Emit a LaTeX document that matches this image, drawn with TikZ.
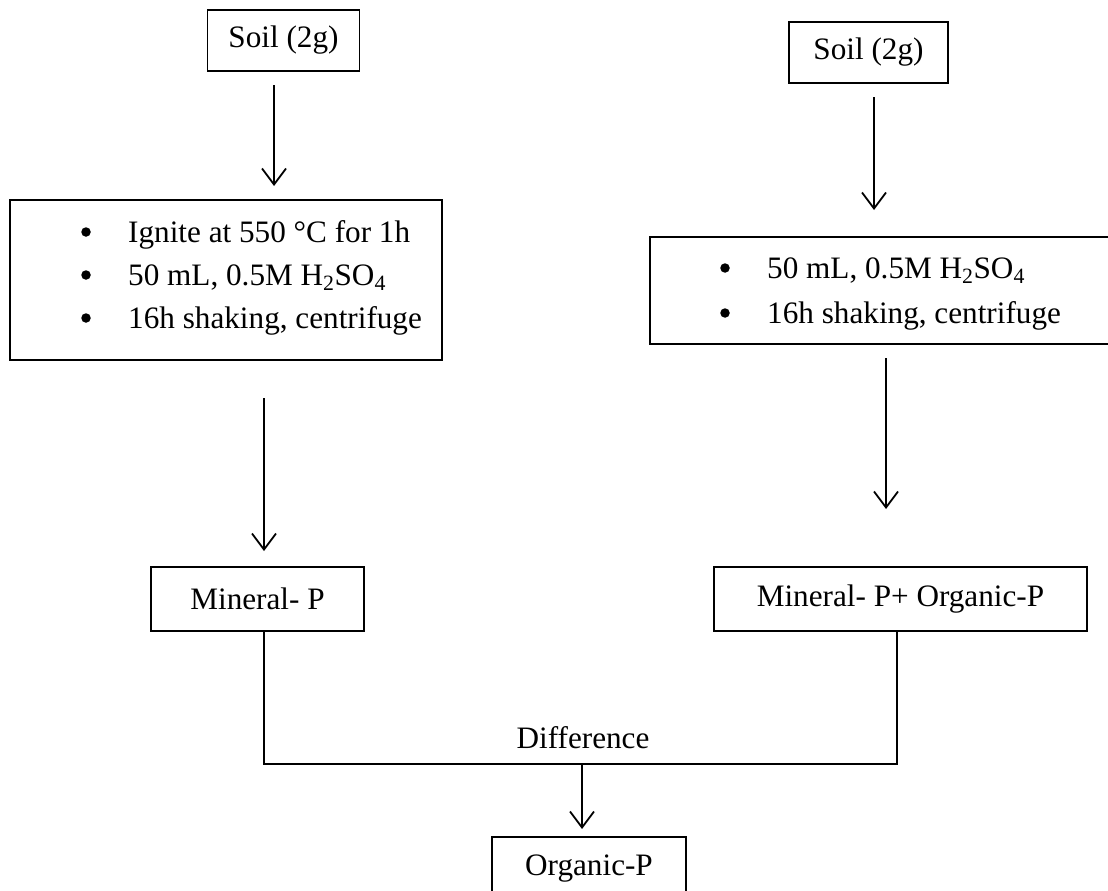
\documentclass[tikz,border=0pt]{standalone}
\usepackage{fontspec}
\setmainfont{Liberation Serif}
\usetikzlibrary{arrows.meta}
\newcommand\diagfont{\fontsize{31.2}{36}\selectfont}
\begin{document}
\begin{tikzpicture}[x=1pt,y=-1pt,
  box/.style={draw, line width=1.2pt, inner sep=0pt, font=\diagfont},
  txt/.style={inner sep=0pt, font=\diagfont},
  dot/.style={circle, fill, inner sep=0pt, minimum size=9.5pt},
  arr/.style={line width=1.8pt, -{Straight Barb[length=16pt,width=24pt]}},
  conn/.style={line width=1.4pt}]
\useasboundingbox (0,0) rectangle (1108,891);
% boxes
\node[box, minimum width=152pt, minimum height=61pt] (soilL) at (283.5,40.5) {Soil (2g)};
\node[box, minimum width=159pt, minimum height=61pt] (soilR) at (868.5,52.5) {Soil (2g)};
\node[box, minimum width=432pt, minimum height=160pt] (procL) at (226,280) {};
\node[box, minimum width=470pt, minimum height=107pt] (procR) at (885,290.5) {};
\node[box, minimum width=213pt, minimum height=64pt] (minL) at (257.5,599) {Mineral- P};
\node[box, minimum width=373pt, minimum height=64pt] (mixR) at (900.5,599) {Mineral- P+ Organic-P};
\node[box, minimum width=194pt, minimum height=64pt] (orgP) at (589,869) {Organic-P};
% bullet lists
\node[dot] (bL1) at (86,232) {};
\node[txt, anchor=base west] (tL1) at (128,242) {Ignite at 550 °C for 1h};
\node[dot] (bL2) at (86,275) {};
\node[txt, anchor=base west] (tL2) at (128,285) {50 mL, 0.5M H\textsubscript{2}SO\textsubscript{4}};
\node[dot] (bL3) at (86,318) {};
\node[txt, anchor=base west] (tL3) at (128,328) {16h shaking, centrifuge};
\node[dot] (bR1) at (725,268) {};
\node[txt, anchor=base west] (tR1) at (767,278) {50 mL, 0.5M H\textsubscript{2}SO\textsubscript{4}};
\node[dot] (bR2) at (725,313) {};
\node[txt, anchor=base west] (tR2) at (767,323) {16h shaking, centrifuge};
\node[txt] (diff) at (583,738) {Difference};
% arrow ends
\coordinate (a1s) at (274,85);   \coordinate (a1e) at (274,186);
\coordinate (a2s) at (264,398);  \coordinate (a2e) at (264,551);
\coordinate (a3s) at (874,97);   \coordinate (a3e) at (874,210);
\coordinate (a4s) at (886,358);  \coordinate (a4e) at (886,509);
\coordinate (jl) at (264,764);   \coordinate (jr) at (897,764);
\coordinate (jm) at (582,764);   \coordinate (a5e) at (582,829);
\draw[arr] (a1s) -- (a1e);
\draw[arr] (a2s) -- (a2e);
\draw[arr] (a3s) -- (a3e);
\draw[arr] (a4s) -- (a4e);
\draw[conn] (minL.south -| jl) -- (jl) -- (jr) -- (mixR.south -| jr);
\draw[arr] (jm) -- (a5e);
\end{tikzpicture}
\end{document}
